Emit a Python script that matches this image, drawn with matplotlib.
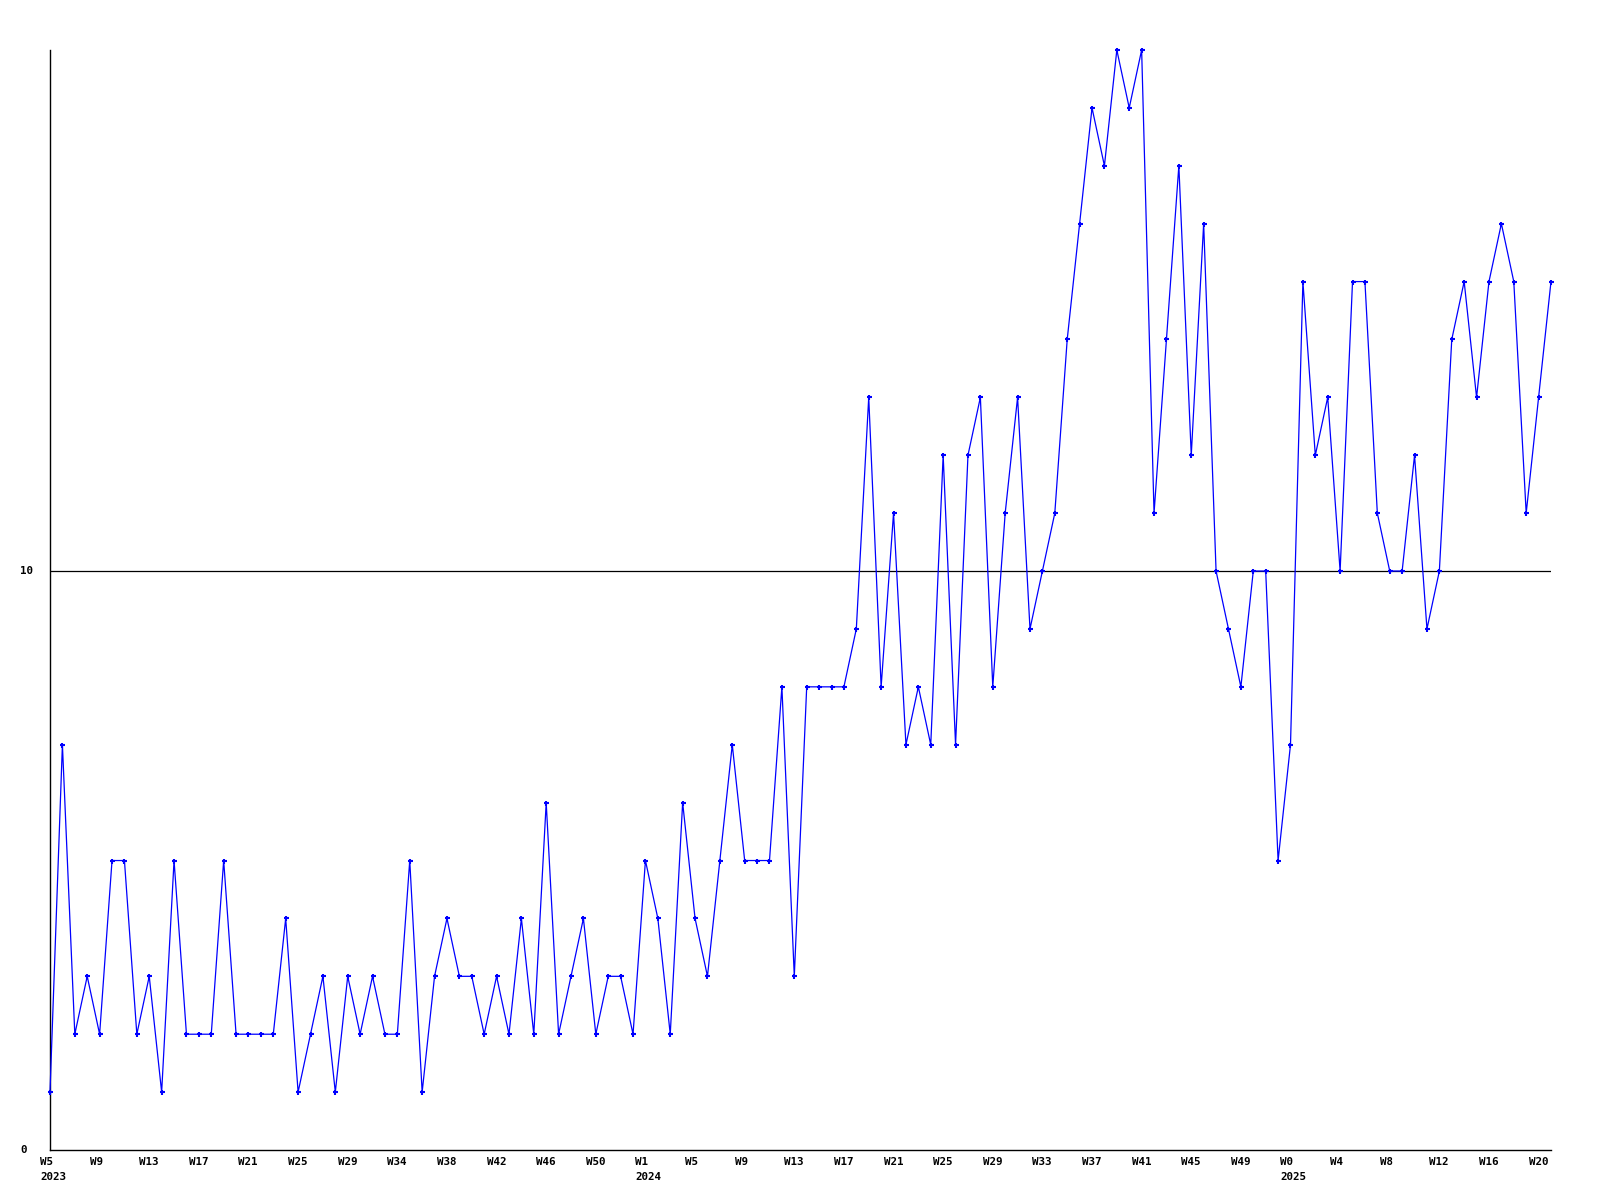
import matplotlib
matplotlib.use("Agg")
import matplotlib.pyplot as plt
import matplotlib.transforms as mtransforms

# ---- data ----
values = [1, 7, 2, 3, 2, 5, 5, 2, 3, 1,
          5, 2, 2, 2, 5, 2, 2, 2, 2, 4,
          1, 2, 3, 1, 3, 2, 3, 2, 2, 5,
          1, 3, 4, 3, 3, 2, 3, 2, 4, 2,
          6, 2, 3, 4, 2, 3, 3, 2, 5, 4,
          2, 6, 4, 3, 5, 7, 5, 5, 5, 8,
          3, 8, 8, 8, 8, 9, 13, 8, 11, 7,
          8, 7, 12, 7, 12, 13, 8, 11, 13, 9,
          10, 11, 14, 16, 18, 17, 19, 18, 19, 11,
          14, 17, 12, 16, 10, 9, 8, 10, 10, 5,
          7, 15, 12, 13, 10, 15, 15, 11, 10, 10,
          12, 9, 10, 14, 15, 13, 15, 16, 15, 11,
          13, 15]

week_label_pos = list(range(0, 121, 4))
week_labels = ["W5", "W9", "W13", "W17", "W21", "W25", "W29", "W34", "W38",
               "W42", "W46", "W50", "W1", "W5", "W9", "W13", "W17", "W21",
               "W25", "W29", "W33", "W37", "W41", "W45", "W49", "W0", "W4",
               "W8", "W12", "W16", "W20"]
year_label_pos = [0, 48, 100]
year_labels = ["2023", "2024", "2025"]
y_ticks = [0, 10]
y_tick_labels = ["0", "10"]

# ---- figure ----
W, H, DPI = 1600, 1200, 100
fig = plt.figure(figsize=(W / DPI, H / DPI), dpi=DPI)
fig.patch.set_facecolor("white")
ax = fig.add_axes([50 / W, (H - 1150) / H, (1551 - 50) / W, (1150 - 50) / H])
ax.set_facecolor("white")

x = list(range(len(values)))
ax.axhline(10, color="black", lw=0.9, zorder=1)
ax.plot(x, values, color="#0000FF", lw=0.9, marker="+", ms=3.6, mew=1.5,
        zorder=3, clip_on=False)

ax.set_xlim(0, len(values) - 1)
ax.set_ylim(0, 19)
for s in ["top", "right"]:
    ax.spines[s].set_visible(False)
for s in ["left", "bottom"]:
    ax.spines[s].set_color("black")
    ax.spines[s].set_linewidth(1.0)
ax.set_xticks([])
ax.set_yticks([])

font = dict(family="DejaVu Sans Mono", weight="bold", size=7.8, color="black")

trans_x = mtransforms.blended_transform_factory(ax.transData, ax.transAxes)
off_w = mtransforms.offset_copy(trans_x, fig=fig, x=-10, y=-12, units="dots")
off_y = mtransforms.offset_copy(trans_x, fig=fig, x=-10, y=-27, units="dots")
for p, lab in zip(week_label_pos, week_labels):
    ax.text(p, 0, lab, transform=off_w, ha="left", va="center", **font)
for p, lab in zip(year_label_pos, year_labels):
    ax.text(p, 0, lab, transform=off_y, ha="left", va="center", **font)

trans_y = mtransforms.blended_transform_factory(fig.transFigure, ax.transData)
for v, lab in zip(y_ticks, y_tick_labels):
    ax.text(20 / W, v, lab, transform=trans_y, ha="left", va="center", **font)

fig.savefig("out.png", dpi=DPI, facecolor="white")
